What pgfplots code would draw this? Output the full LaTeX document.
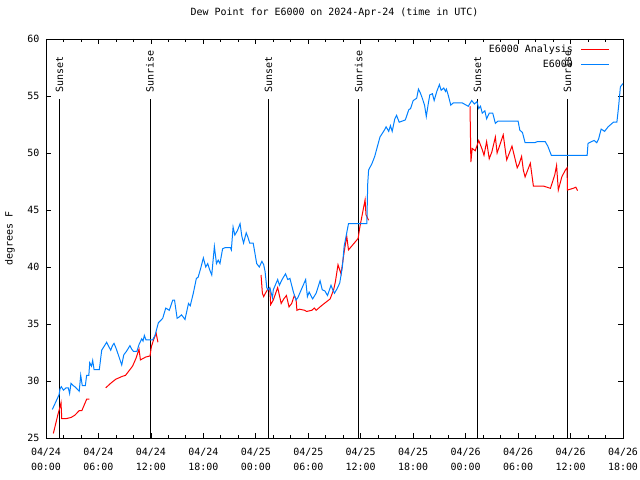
\documentclass[border=0pt]{standalone}
\usepackage{pgfplots}
\pgfplotsset{compat=1.18}
\usepackage{fontspec}
\setmainfont{DejaVu Sans Mono}
\definecolor{obsblue}{RGB}{0,128,255}
\definecolor{anred}{RGB}{255,0,0}
\begin{document}
\begin{tikzpicture}[font=\fontsize{10}{15}\selectfont]
\path[use as bounding box] (-46bp,-42bp) rectangle (594bp,438bp);
\begin{axis}[
 scale only axis, width=577bp, height=399bp,
 at={(0,0)}, anchor=south west,
 xmin=0, xmax=66, ymin=25, ymax=60,
 xtick={0,6,...,66},
 xticklabels={{04/24\\00:00},{04/24\\06:00},{04/24\\12:00},{04/24\\18:00},{04/25\\00:00},{04/25\\06:00},{04/25\\12:00},{04/25\\18:00},{04/26\\00:00},{04/26\\06:00},{04/26\\12:00},{04/26\\18:00}},
 minor x tick num=2,
 ytick={25,30,...,60},
 tick align=inside,
 major tick length=5bp, minor tick length=3bp,
 every tick/.style={black, line width=0.8bp},
 axis line style={line width=0.8bp},
 /pgf/number format/assume math mode=true,
 xticklabel style={align=center, anchor=center, yshift=-21.5bp},
 yticklabel style={anchor=east, xshift=-3bp},
 title={Dew Point for E6000 on 2024-Apr-24 (time in UTC)},
 title style={at={(axis description cs:0.5,1.05)}, anchor=center},
 ylabel={degrees F},
 ylabel style={at={(axis description cs:-0.0624,0.5)}, anchor=center},
 legend plot pos=right,
 legend cell align=right,
 legend image code/.code={\path (0bp,0bp); \draw[#1] (6bp,0bp) -- (34bp,0bp);},
 legend style={draw=none, fill=none, inner sep=0pt, row sep=2bp,
   at={(axis description cs:0.9775,0.99)}, anchor=north east},
]
% sunset / sunrise lines
\addplot[black, line width=0.8bp, forget plot] coordinates {(1.53,25) (1.53,54.7)};
\addplot[black, line width=0.8bp, forget plot] coordinates {(11.9,25) (11.9,54.7)};
\addplot[black, line width=0.8bp, forget plot] coordinates {(25.45,25) (25.45,54.7)};
\addplot[black, line width=0.8bp, forget plot] coordinates {(35.75,25) (35.75,54.7)};
\addplot[black, line width=0.8bp, forget plot] coordinates {(49.35,25) (49.35,54.7)};
\addplot[black, line width=0.8bp, forget plot] coordinates {(59.65,25) (59.65,54.7)};
\node[rotate=90, anchor=west, inner sep=0pt] at (axis cs:1.53,55.3) {Sunset};
\node[rotate=90, anchor=west, inner sep=0pt] at (axis cs:11.9,55.3) {Sunrise};
\node[rotate=90, anchor=west, inner sep=0pt] at (axis cs:25.45,55.3) {Sunset};
\node[rotate=90, anchor=west, inner sep=0pt] at (axis cs:35.75,55.3) {Sunrise};
\node[rotate=90, anchor=west, inner sep=0pt] at (axis cs:49.35,55.3) {Sunset};
\node[rotate=90, anchor=west, inner sep=0pt] at (axis cs:59.65,55.3) {Sunrise};
% analysis (red)
\addplot[anred, line width=1bp] coordinates {
(0.84,25.4) (1.41,27.2) (1.6,27.7) (1.72,28.1) (1.8,26.7) (2.3,26.7) (2.86,26.8)
(3.3,27.0) (3.8,27.4) (4.1,27.4) (4.65,28.4) (4.95,28.4)};
\addlegendentry{E6000 Analysis}
\addplot[anred, line width=1bp, forget plot] coordinates {
(6.83,29.4) (7.4,29.8) (7.97,30.15) (8.7,30.4) (9.1,30.5) (9.5,30.9) (9.9,31.3)
(10.3,32.0) (10.64,32.8) (10.8,31.85) (11.4,32.1) (11.9,32.2) (12.05,33.0)
(12.3,33.6) (12.6,34.2) (12.8,33.4)};
\addplot[anred, line width=1bp, forget plot] coordinates {
(24.6,39.3) (24.75,37.7) (24.9,37.4) (25.1,37.7) (25.4,38.1) (25.6,38.1) (25.7,36.7)
(26.0,37.1) (26.5,38.2) (26.9,36.8) (27.2,37.2) (27.5,37.5) (27.8,36.5) (28.1,36.8)
(28.4,37.5) (28.6,37.2) (28.7,36.2) (29.0,36.3) (29.6,36.2) (29.8,36.1) (30.4,36.2)
(30.7,36.4) (30.9,36.2) (31.5,36.6) (32.0,36.9) (32.5,37.2) (32.9,38.0) (33.1,38.7)
(33.4,40.2) (33.75,39.4) (34.1,41.3) (34.4,42.7) (34.6,41.5) (35.7,42.5) (35.9,43.5)
(36.2,44.7) (36.5,45.9) (36.6,44.6) (36.9,44.1)};
\addplot[anred, line width=1bp, forget plot] coordinates {
(48.5,54.1) (48.6,49.2) (48.75,50.4) (49.1,50.2) (49.5,51.1) (49.9,50.3) (50.1,49.8)
(50.4,51.0) (50.7,49.5) (51.0,50.1) (51.4,51.4) (51.6,50.0) (52.0,50.9) (52.3,51.6)
(52.6,49.9) (52.7,49.4) (53.3,50.6) (53.9,48.7) (54.1,49.0) (54.4,49.7) (54.6,48.5)
(54.8,47.9) (55.1,48.5) (55.4,49.1) (55.75,47.1) (56.9,47.1) (57.7,46.9) (58.2,48.1)
(58.4,48.9) (58.6,46.75) (59.0,47.9) (59.4,48.5) (59.6,48.7) (59.65,46.75) (60.3,46.9)
(60.6,47.0) (60.8,46.7)};
% observations (blue)
\addplot[obsblue, line width=1bp] coordinates {
(0.72,27.5) (1.2,28.3) (1.5,28.8) (1.6,29.3) (1.75,29.5) (2.0,29.2) (2.3,29.4)
(2.55,29.4) (2.7,28.9) (2.86,29.8) (3.1,29.6) (3.3,29.5) (3.55,29.3) (3.8,29.1)
(3.97,30.5) (4.15,29.6) (4.5,29.6) (4.65,30.5) (4.9,30.5) (5.0,31.6) (5.2,31.3)
(5.34,31.8) (5.5,31.0) (6.1,31.0) (6.37,32.7) (6.94,33.4) (7.2,33.0) (7.4,32.7)
(7.6,33.1) (7.78,33.3) (8.0,32.9) (8.27,32.3) (8.66,31.4) (8.9,32.3) (9.2,32.6)
(9.6,33.1) (9.8,32.8) (10.0,32.6) (10.4,32.6) (10.64,33.2) (10.95,33.7) (11.1,33.5)
(11.25,34.0) (11.44,33.6) (11.9,33.6) (12.2,33.6) (12.47,34.0) (12.85,35.1)
(13.35,35.5) (13.7,36.4) (14.1,36.2) (14.5,37.1) (14.7,37.1) (15.0,35.5) (15.2,35.6)
(15.5,35.8) (15.9,35.4) (16.3,36.8) (16.5,36.6) (16.85,37.7) (17.2,39.0) (17.4,39.1)
(17.7,39.9) (18.0,40.8) (18.27,40.0) (18.5,40.3) (18.7,39.8) (18.96,39.3) (19.26,41.8)
(19.5,40.3) (19.7,40.6) (19.9,40.3) (20.2,41.6) (20.5,41.7) (21.1,41.7) (21.2,41.5)
(21.4,43.5) (21.6,42.8) (21.9,43.2) (22.2,43.8) (22.4,42.7) (22.6,42.1) (22.9,43.0)
(23.1,42.6) (23.3,42.1) (23.7,42.1) (23.9,41.2) (24.1,40.3) (24.4,40.0) (24.7,40.5)
(24.9,40.2) (25.06,39.6) (25.25,38.2) (25.4,38.0) (25.6,38.2) (25.9,37.3) (26.0,38.0)
(26.5,38.9) (26.7,38.4) (27.0,38.9) (27.4,39.4) (27.65,38.9) (27.9,39.0) (28.3,37.8)
(28.6,37.1) (28.8,37.3) (29.25,38.1) (29.7,38.9) (29.9,37.4) (30.1,37.8) (30.5,37.2)
(30.9,37.7) (31.35,38.8) (31.6,38.0) (31.9,37.9) (32.2,37.5) (32.6,38.4) (32.8,38.0)
(33.0,37.7) (33.3,38.1) (33.6,38.6) (33.9,40.0) (34.1,41.8) (34.4,43.0) (34.6,43.8)
(36.7,43.8) (36.8,47.3) (36.9,48.5) (37.3,49.1) (37.6,49.7) (38.2,51.4) (38.7,52.0)
(38.9,52.3) (39.2,51.9) (39.4,52.4) (39.6,51.9) (39.9,53.0) (40.1,53.3) (40.4,52.7)
(41.1,52.9) (41.5,53.8) (41.7,53.9) (42.0,54.6) (42.4,54.8) (42.6,55.6) (42.8,55.3)
(43.0,54.9) (43.3,54.2) (43.5,53.2) (43.7,54.2) (43.9,55.1) (44.2,55.2) (44.4,54.6)
(44.7,55.4) (45.0,56.0) (45.2,55.5) (45.5,55.7) (45.7,55.4) (45.8,55.6) (46.0,55.1)
(46.3,54.2) (46.6,54.4) (47.6,54.4) (48.3,54.1) (48.7,54.6) (49.0,54.3) (49.3,54.5)
(49.5,53.9) (49.7,54.1) (49.9,53.5) (50.2,53.7) (50.4,53.0) (50.7,53.5) (51.1,53.5)
(51.4,52.6) (51.7,52.8) (54.0,52.8) (54.2,52.0) (54.5,51.8) (54.8,50.9) (55.9,50.9)
(56.2,51.0) (57.1,51.0) (57.4,50.6) (57.8,49.8) (61.9,49.8) (62.0,50.85) (62.4,51.0)
(62.7,51.1) (63.0,50.9) (63.2,51.2) (63.5,52.1) (63.9,51.9) (64.3,52.3) (64.9,52.7)
(65.3,52.7) (65.5,54.1) (65.7,55.8) (66.0,56.1)};
\addlegendentry{E6000}
\end{axis}
\end{tikzpicture}
\end{document}
